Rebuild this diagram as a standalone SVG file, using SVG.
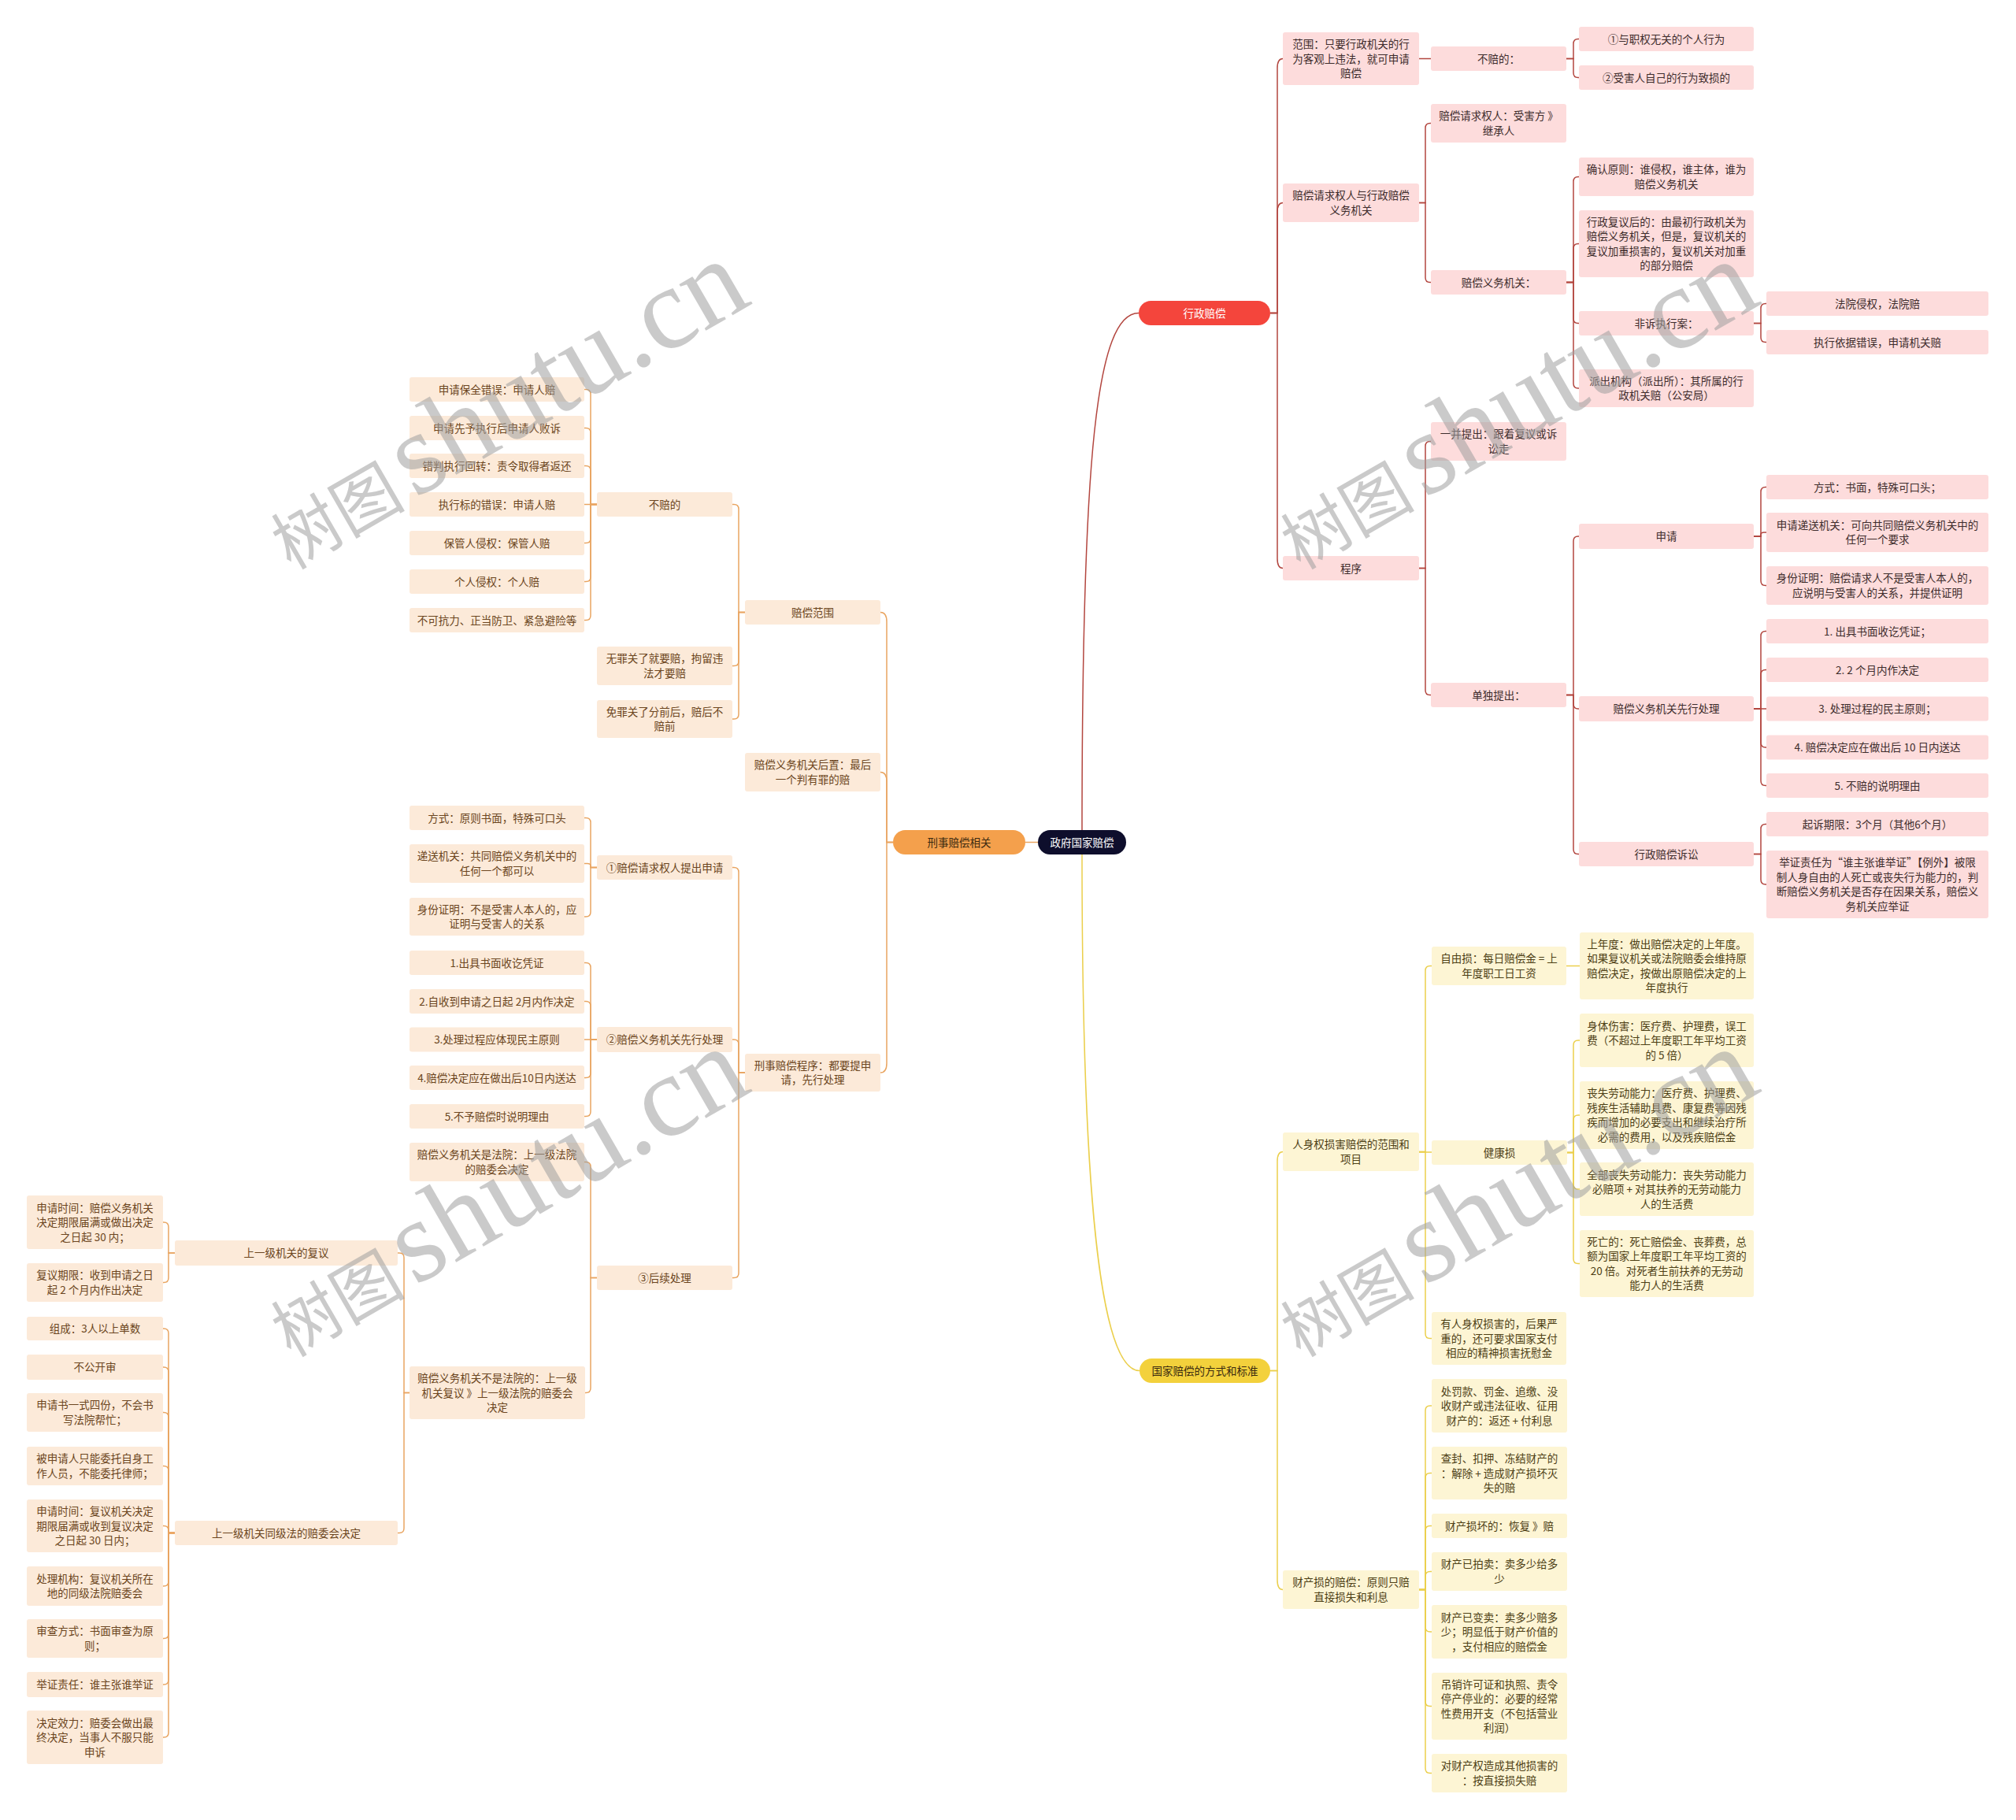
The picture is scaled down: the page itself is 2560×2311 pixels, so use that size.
<svg xmlns="http://www.w3.org/2000/svg" width="2560" height="2311" viewBox="0 0 2560 2311">
<style>
.br{fill:#FDDCDC}.bo{fill:#FCEAD9}.by{fill:#FDF5D4}
text{font-family:"Noto Sans CJK SC","Noto Sans",sans-serif;font-size:13.5px;text-anchor:middle}
.tr{fill:#3d2c2c}.to{fill:#6b4520}.ty{fill:#4d4015}.tw{fill:#ffffff}.td{fill:#3a2a10}
.c{fill:none;stroke-width:1.5}.cr{stroke:#B3463F}.co{stroke:#E9A561}.cy{stroke:#EBCF4C}
.wm{font-family:"Liberation Serif","Noto Sans CJK SC",serif;fill:#a0a0a0;opacity:0.55}
.wc{font-size:85px}.wl{font-size:148px}
</style>
<rect width="2560" height="2311" fill="#ffffff"/>
<g id="connectors">
<path class="c cr" d="M1374 1054 C1374 580 1392 397.5 1446 397.5"/>
<path class="c cy" d="M1374 1085 C1374 1500 1395 1740.5 1447 1740.5"/>
<path class="c co" d="M1318 1069.5 H1302"/>
<path class="c cr" d="M1613 397.5 H1622 V86.5 Q1622 74.5 1629 74.5"/>
<path class="c cr" d="M1613 397.5 H1622 V269.5 Q1622 257.5 1629 257.5"/>
<path class="c cr" d="M1613 397.5 H1622 V709.5 Q1622 721.5 1629 721.5"/>
<path class="c cr" d="M1802 74.5 H1817"/>
<path class="c cr" d="M1989 74.5 H1998 V55.5 Q1998 49.5 2004 49.5 H2005"/>
<path class="c cr" d="M1989 74.5 H1998 V92.5 Q1998 98.5 2004 98.5 H2005"/>
<path class="c cr" d="M1802 257.5 H1810 V162.5 Q1810 156.5 1816 156.5 H1817"/>
<path class="c cr" d="M1802 257.5 H1810 V352.5 Q1810 358.5 1816 358.5 H1817"/>
<path class="c cr" d="M1989 358.5 H1998 V230.5 Q1998 224.5 2004 224.5 H2005"/>
<path class="c cr" d="M1989 358.5 H1998 V315.5 Q1998 309.5 2004 309.5 H2005"/>
<path class="c cr" d="M1989 358.5 H1998 V404.5 Q1998 410.5 2004 410.5 H2005"/>
<path class="c cr" d="M1989 358.5 H1998 V487 Q1998 493 2004 493 H2005"/>
<path class="c cr" d="M2227 410.5 H2236 V391.5 Q2236 385.5 2242 385.5 H2243"/>
<path class="c cr" d="M2227 410.5 H2236 V428.5 Q2236 434.5 2242 434.5 H2243"/>
<path class="c cr" d="M1802 721.5 H1810 V566.5 Q1810 560.5 1816 560.5 H1817"/>
<path class="c cr" d="M1802 721.5 H1810 V876.5 Q1810 882.5 1816 882.5 H1817"/>
<path class="c cr" d="M1989 882.5 H1998 V687 Q1998 681 2004 681 H2005"/>
<path class="c cr" d="M1989 882.5 H1998 V894 Q1998 900 2004 900 H2005"/>
<path class="c cr" d="M1989 882.5 H1998 V1078.5 Q1998 1084.5 2004 1084.5 H2005"/>
<path class="c cr" d="M2227 681 H2236 V624.5 Q2236 618.5 2242 618.5 H2243"/>
<path class="c cr" d="M2227 681 H2236 V679 Q2236 676 2240 676 H2243"/>
<path class="c cr" d="M2227 681 H2236 V737.5 Q2236 743.5 2242 743.5 H2243"/>
<path class="c cr" d="M2227 900 H2236 V807.5 Q2236 801.5 2242 801.5 H2243"/>
<path class="c cr" d="M2227 900 H2236 V856.5 Q2236 850.5 2242 850.5 H2243"/>
<path class="c cr" d="M2227 900 H2243"/>
<path class="c cr" d="M2227 900 H2236 V943 Q2236 949 2242 949 H2243"/>
<path class="c cr" d="M2227 900 H2236 V991.5 Q2236 997.5 2242 997.5 H2243"/>
<path class="c cr" d="M2227 1084.5 H2236 V1052.5 Q2236 1046.5 2242 1046.5 H2243"/>
<path class="c cr" d="M2227 1084.5 H2236 V1117 Q2236 1123 2242 1123 H2243"/>
<path class="c cy" d="M1613 1740.5 H1622 V1474.5 Q1622 1462.5 1629 1462.5"/>
<path class="c cy" d="M1613 1740.5 H1622 V2006.5 Q1622 2018.5 1629 2018.5"/>
<path class="c cy" d="M1802 1462.5 H1810 V1232.5 Q1810 1226.5 1816 1226.5 H1818"/>
<path class="c cy" d="M1802 1463 H1818"/>
<path class="c cy" d="M1802 1462.5 H1810 V1693.5 Q1810 1699.5 1816 1699.5 H1818"/>
<path class="c cy" d="M1989 1226.5 H2006"/>
<path class="c cy" d="M1990 1463.5 H1998 V1327 Q1998 1321 2004 1321 H2006"/>
<path class="c cy" d="M1990 1463.5 H1998 V1422 Q1998 1416 2004 1416 H2006"/>
<path class="c cy" d="M1990 1463.5 H1998 V1504 Q1998 1510 2004 1510 H2006"/>
<path class="c cy" d="M1990 1463.5 H1998 V1598.5 Q1998 1604.5 2004 1604.5 H2006"/>
<path class="c cy" d="M1802 2018.5 H1810 V1791 Q1810 1785 1816 1785 H1818"/>
<path class="c cy" d="M1802 2018.5 H1810 V1876.5 Q1810 1870.5 1816 1870.5 H1818"/>
<path class="c cy" d="M1802 2018.5 H1810 V1943.5 Q1810 1937.5 1816 1937.5 H1818"/>
<path class="c cy" d="M1802 2018.5 H1810 V2001.5 Q1810 1995.5 1816 1995.5 H1818"/>
<path class="c cy" d="M1802 2018.5 H1810 V2066 Q1810 2072 1816 2072 H1818"/>
<path class="c cy" d="M1802 2018.5 H1810 V2160.5 Q1810 2166.5 1816 2166.5 H1818"/>
<path class="c cy" d="M1802 2018.5 H1810 V2245.5 Q1810 2251.5 1816 2251.5 H1818"/>
<path class="c co" d="M1134 1069.5 H1126 V789.5 Q1126 777.5 1118 777.5"/>
<path class="c co" d="M1134 1069.5 H1126 V992.5 Q1126 980.5 1118 980.5"/>
<path class="c co" d="M1134 1069.5 H1126 V1350 Q1126 1362 1118 1362"/>
<path class="c co" d="M946 777.5 H938 V646.5 Q938 640.5 932 640.5 H930"/>
<path class="c co" d="M946 777.5 H938 V839.5 Q938 845.5 932 845.5 H930"/>
<path class="c co" d="M946 777.5 H938 V907 Q938 913 932 913 H930"/>
<path class="c co" d="M758 640.5 H750 V500.5 Q750 494.5 744 494.5 H742"/>
<path class="c co" d="M758 640.5 H750 V549.5 Q750 543.5 744 543.5 H742"/>
<path class="c co" d="M758 640.5 H750 V597.5 Q750 591.5 744 591.5 H742"/>
<path class="c co" d="M758 640.5 H742"/>
<path class="c co" d="M758 640.5 H750 V683.5 Q750 689.5 744 689.5 H742"/>
<path class="c co" d="M758 640.5 H750 V732.5 Q750 738.5 744 738.5 H742"/>
<path class="c co" d="M758 640.5 H750 V781.5 Q750 787.5 744 787.5 H742"/>
<path class="c co" d="M946 1362 H938 V1107.5 Q938 1101.5 932 1101.5 H930"/>
<path class="c co" d="M946 1362 H938 V1326 Q938 1320 932 1320 H930"/>
<path class="c co" d="M946 1362 H938 V1616.5 Q938 1622.5 932 1622.5 H930"/>
<path class="c co" d="M758 1101.5 H750 V1044.5 Q750 1038.5 744 1038.5 H742"/>
<path class="c co" d="M758 1101.5 H750 V1099.5 Q750 1096.5 746 1096.5 H742"/>
<path class="c co" d="M758 1101.5 H750 V1158 Q750 1164 744 1164 H742"/>
<path class="c co" d="M758 1320 H750 V1228.5 Q750 1222.5 744 1222.5 H742"/>
<path class="c co" d="M758 1320 H750 V1277.5 Q750 1271.5 744 1271.5 H742"/>
<path class="c co" d="M758 1320 H742"/>
<path class="c co" d="M758 1320 H750 V1362.5 Q750 1368.5 744 1368.5 H742"/>
<path class="c co" d="M758 1320 H750 V1411.5 Q750 1417.5 744 1417.5 H742"/>
<path class="c co" d="M758 1622.5 H750 V1481.5 Q750 1475.5 744 1475.5 H742"/>
<path class="c co" d="M758 1622.5 H750 V1762.5 Q750 1768.5 744 1768.5 H742"/>
<path class="c co" d="M520 1768.5 H513 V1597 Q513 1591 507 1591 H505"/>
<path class="c co" d="M520 1768.5 H513 V1940.5 Q513 1946.5 507 1946.5 H505"/>
<path class="c co" d="M222 1591 H214 V1558 Q214 1552 208 1552 H207"/>
<path class="c co" d="M222 1591 H214 V1622.5 Q214 1628.5 208 1628.5 H207"/>
<path class="c co" d="M222 1946.5 H214 V1693 Q214 1687 208 1687 H207"/>
<path class="c co" d="M222 1946.5 H214 V1742 Q214 1736 208 1736 H207"/>
<path class="c co" d="M222 1946.5 H214 V1799.5 Q214 1793.5 208 1793.5 H207"/>
<path class="c co" d="M222 1946.5 H214 V1867.5 Q214 1861.5 208 1861.5 H207"/>
<path class="c co" d="M222 1946.5 H214 V1943.5 Q214 1937.5 208 1937.5 H207"/>
<path class="c co" d="M222 1946.5 H214 V2008 Q214 2014 208 2014 H207"/>
<path class="c co" d="M222 1946.5 H214 V2074.5 Q214 2080.5 208 2080.5 H207"/>
<path class="c co" d="M222 1946.5 H214 V2133 Q214 2139 208 2139 H207"/>
<path class="c co" d="M222 1946.5 H214 V2200 Q214 2206 208 2206 H207"/>
</g>

<g id="root"><rect x="1318" y="1054" width="112" height="31" rx="15.5" fill="#0E0E2C"/><text class="tw" x="1374" y="1074.5">政府国家赔偿</text></g>
<g id="n_xzpc"><rect x="1446" y="382" width="167" height="31" rx="15.5" fill="#F4453C"/><text class="tw" x="1529.5" y="402.5">行政赔偿</text></g>
<g id="n_xspc"><rect x="1134" y="1054" width="168" height="31" rx="15.5" fill="#F4A04C"/><text class="td" x="1218" y="1074.5">刑事赔偿相关</text></g>
<g id="n_gjpc"><rect x="1447" y="1725" width="166" height="31" rx="15.5" fill="#F3D13C"/><text class="td" x="1530" y="1745.5">国家赔偿的方式和标准</text></g>

<g id="a1"><rect class="br" x="1629" y="41" width="173" height="67" rx="3"/><text class="tr" x="1715.5" y="61"><tspan x="1715.5">范围：只要行政机关的行</tspan><tspan x="1715.5" dy="18.5">为客观上违法，就可申请</tspan><tspan x="1715.5" dy="18.5">赔偿</tspan></text></g>
<g id="a2"><rect class="br" x="1817" y="59" width="172" height="31" rx="3"/><text class="tr" x="1903" y="79.5">不赔的：</text></g>
<g id="a3"><rect class="br" x="2005" y="34" width="222" height="31" rx="3"/><text class="tr" x="2116" y="54.5">①与职权无关的个人行为</text></g>
<g id="a4"><rect class="br" x="2005" y="83" width="222" height="31" rx="3"/><text class="tr" x="2116" y="103.5">②受害人自己的行为致损的</text></g>
<g id="a5"><rect class="br" x="1629" y="233" width="173" height="49" rx="3"/><text class="tr" x="1715.5" y="253.25"><tspan x="1715.5">赔偿请求权人与行政赔偿</tspan><tspan x="1715.5" dy="18.5">义务机关</tspan></text></g>
<g id="a6"><rect class="br" x="1817" y="132" width="172" height="49" rx="3"/><text class="tr" x="1903" y="152.25"><tspan x="1903">赔偿请求权人：受害方 》</tspan><tspan x="1903" dy="18.5">继承人</tspan></text></g>
<g id="a7"><rect class="br" x="1817" y="343" width="172" height="31" rx="3"/><text class="tr" x="1903" y="363.5">赔偿义务机关：</text></g>
<g id="a8"><rect class="br" x="2005" y="200" width="222" height="49" rx="3"/><text class="tr" x="2116" y="220.25"><tspan x="2116">确认原则：谁侵权，谁主体，谁为</tspan><tspan x="2116" dy="18.5">赔偿义务机关</tspan></text></g>
<g id="a9"><rect class="br" x="2005" y="267" width="222" height="85" rx="3"/><text class="tr" x="2116" y="286.75"><tspan x="2116">行政复议后的：由最初行政机关为</tspan><tspan x="2116" dy="18.5">赔偿义务机关，但是，复议机关的</tspan><tspan x="2116" dy="18.5">复议加重损害的，复议机关对加重</tspan><tspan x="2116" dy="18.5">的部分赔偿</tspan></text></g>
<g id="a10"><rect class="br" x="2005" y="395" width="222" height="31" rx="3"/><text class="tr" x="2116" y="415.5">非诉执行案：</text></g>
<g id="a11"><rect class="br" x="2243" y="370" width="282" height="31" rx="3"/><text class="tr" x="2384" y="390.5">法院侵权，法院赔</text></g>
<g id="a12"><rect class="br" x="2243" y="419" width="282" height="31" rx="3"/><text class="tr" x="2384" y="439.5">执行依据错误，申请机关赔</text></g>
<g id="a13"><rect class="br" x="2005" y="469" width="222" height="48" rx="3"/><text class="tr" x="2116" y="488.75"><tspan x="2116">派出机构（派出所）：其所属的行</tspan><tspan x="2116" dy="18.5">政机关赔（公安局）</tspan></text></g>
<g id="a14"><rect class="br" x="1629" y="706" width="173" height="31" rx="3"/><text class="tr" x="1715.5" y="726.5">程序</text></g>
<g id="a15"><rect class="br" x="1817" y="536" width="172" height="49" rx="3"/><text class="tr" x="1903" y="556.25"><tspan x="1903">一并提出：跟着复议或诉</tspan><tspan x="1903" dy="18.5">讼走</tspan></text></g>
<g id="a16"><rect class="br" x="1817" y="867" width="172" height="31" rx="3"/><text class="tr" x="1903" y="887.5">单独提出：</text></g>
<g id="a17"><rect class="br" x="2005" y="665" width="222" height="32" rx="3"/><text class="tr" x="2116" y="686">申请</text></g>
<g id="a18"><rect class="br" x="2243" y="603" width="282" height="31" rx="3"/><text class="tr" x="2384" y="623.5">方式：书面，特殊可口头；</text></g>
<g id="a19"><rect class="br" x="2243" y="651" width="282" height="50" rx="3"/><text class="tr" x="2384" y="671.75"><tspan x="2384">申请递送机关：可向共同赔偿义务机关中的</tspan><tspan x="2384" dy="18.5">任何一个要求</tspan></text></g>
<g id="a20"><rect class="br" x="2243" y="719" width="282" height="49" rx="3"/><text class="tr" x="2384" y="739.25"><tspan x="2384">身份证明：赔偿请求人不是受害人本人的，</tspan><tspan x="2384" dy="18.5">应说明与受害人的关系，并提供证明</tspan></text></g>
<g id="a21"><rect class="br" x="2005" y="884" width="222" height="32" rx="3"/><text class="tr" x="2116" y="905">赔偿义务机关先行处理</text></g>
<g id="a22"><rect class="br" x="2243" y="786" width="282" height="31" rx="3"/><text class="tr" x="2384" y="806.5">1. 出具书面收讫凭证；</text></g>
<g id="a23"><rect class="br" x="2243" y="835" width="282" height="31" rx="3"/><text class="tr" x="2384" y="855.5">2. 2 个月内作决定</text></g>
<g id="a24"><rect class="br" x="2243" y="884.5" width="282" height="31" rx="3"/><text class="tr" x="2384" y="905">3. 处理过程的民主原则；</text></g>
<g id="a25"><rect class="br" x="2243" y="933.5" width="282" height="31" rx="3"/><text class="tr" x="2384" y="954">4. 赔偿决定应在做出后 10 日内送达</text></g>
<g id="a26"><rect class="br" x="2243" y="982" width="282" height="31" rx="3"/><text class="tr" x="2384" y="1002.5">5. 不赔的说明理由</text></g>
<g id="a27"><rect class="br" x="2005" y="1069" width="222" height="31" rx="3"/><text class="tr" x="2116" y="1089.5">行政赔偿诉讼</text></g>
<g id="a28"><rect class="br" x="2243" y="1031" width="282" height="31" rx="3"/><text class="tr" x="2384" y="1051.5">起诉期限：3个月（其他6个月）</text></g>
<g id="a29"><rect class="br" x="2243" y="1080" width="282" height="86" rx="3"/><text class="tr" x="2384" y="1100.25"><tspan x="2384">举证责任为“谁主张谁举证”【例外】被限</tspan><tspan x="2384" dy="18.5">制人身自由的人死亡或丧失行为能力的，判</tspan><tspan x="2384" dy="18.5">断赔偿义务机关是否存在因果关系，赔偿义</tspan><tspan x="2384" dy="18.5">务机关应举证</tspan></text></g>

<g id="b1"><rect class="by" x="1629" y="1438" width="173" height="49" rx="3"/><text class="ty" x="1715.5" y="1458.25"><tspan x="1715.5">人身权损害赔偿的范围和</tspan><tspan x="1715.5" dy="18.5">项目</tspan></text></g>
<g id="b2"><rect class="by" x="1818" y="1202" width="171" height="49" rx="3"/><text class="ty" x="1903.5" y="1222.25"><tspan x="1903.5">自由损：每日赔偿金 = 上</tspan><tspan x="1903.5" dy="18.5">年度职工日工资</tspan></text></g>
<g id="b3"><rect class="by" x="2006" y="1184" width="221" height="85" rx="3"/><text class="ty" x="2116.5" y="1203.75"><tspan x="2116.5">上年度：做出赔偿决定的上年度。</tspan><tspan x="2116.5" dy="18.5">如果复议机关或法院赔委会维持原</tspan><tspan x="2116.5" dy="18.5">赔偿决定，按做出原赔偿决定的上</tspan><tspan x="2116.5" dy="18.5">年度执行</tspan></text></g>
<g id="b4"><rect class="by" x="1818" y="1448" width="172" height="31" rx="3"/><text class="ty" x="1904" y="1468.5">健康损</text></g>
<g id="b5"><rect class="by" x="2006" y="1287" width="221" height="68" rx="3"/><text class="ty" x="2116.5" y="1307.5"><tspan x="2116.5">身体伤害：医疗费、护理费，误工</tspan><tspan x="2116.5" dy="18.5">费（不超过上年度职工年平均工资</tspan><tspan x="2116.5" dy="18.5">的 5 倍）</tspan></text></g>
<g id="b6"><rect class="by" x="2006" y="1373" width="221" height="86" rx="3"/><text class="ty" x="2116.5" y="1393.25"><tspan x="2116.5">丧失劳动能力：医疗费、护理费、</tspan><tspan x="2116.5" dy="18.5">残疾生活辅助具费、康复费等因残</tspan><tspan x="2116.5" dy="18.5">疾而增加的必要支出和继续治疗所</tspan><tspan x="2116.5" dy="18.5">必需的费用，以及残疾赔偿金</tspan></text></g>
<g id="b7"><rect class="by" x="2006" y="1476" width="221" height="68" rx="3"/><text class="ty" x="2116.5" y="1496.5"><tspan x="2116.5">全部丧失劳动能力：丧失劳动能力</tspan><tspan x="2116.5" dy="18.5">必赔项 + 对其扶养的无劳动能力</tspan><tspan x="2116.5" dy="18.5">人的生活费</tspan></text></g>
<g id="b8"><rect class="by" x="2006" y="1562" width="221" height="85" rx="3"/><text class="ty" x="2116.5" y="1581.75"><tspan x="2116.5">死亡的：死亡赔偿金、丧葬费，总</tspan><tspan x="2116.5" dy="18.5">额为国家上年度职工年平均工资的</tspan><tspan x="2116.5" dy="18.5">20 倍。对死者生前扶养的无劳动</tspan><tspan x="2116.5" dy="18.5">能力人的生活费</tspan></text></g>
<g id="b9"><rect class="by" x="1818" y="1666" width="171" height="67" rx="3"/><text class="ty" x="1903.5" y="1686"><tspan x="1903.5">有人身权损害的，后果严</tspan><tspan x="1903.5" dy="18.5">重的，还可要求国家支付</tspan><tspan x="1903.5" dy="18.5">相应的精神损害抚慰金</tspan></text></g>
<g id="b10"><rect class="by" x="1629" y="1994" width="173" height="49" rx="3"/><text class="ty" x="1715.5" y="2014.25"><tspan x="1715.5">财产损的赔偿：原则只赔</tspan><tspan x="1715.5" dy="18.5">直接损失和利息</tspan></text></g>
<g id="b11"><rect class="by" x="1818" y="1751" width="172" height="68" rx="3"/><text class="ty" x="1904" y="1771.5"><tspan x="1904">处罚款、罚金、追缴、没</tspan><tspan x="1904" dy="18.5">收财产或违法征收、征用</tspan><tspan x="1904" dy="18.5">财产的：返还 + 付利息</tspan></text></g>
<g id="b12"><rect class="by" x="1818" y="1837" width="172" height="67" rx="3"/><text class="ty" x="1904" y="1857"><tspan x="1904">查封、扣押、冻结财产的</tspan><tspan x="1904" dy="18.5">：解除 + 造成财产损坏灭</tspan><tspan x="1904" dy="18.5">失的赔</tspan></text></g>
<g id="b13"><rect class="by" x="1818" y="1922" width="172" height="31" rx="3"/><text class="ty" x="1904" y="1942.5">财产损坏的：恢复 》赔</text></g>
<g id="b14"><rect class="by" x="1818" y="1971" width="172" height="49" rx="3"/><text class="ty" x="1904" y="1991.25"><tspan x="1904">财产已拍卖：卖多少给多</tspan><tspan x="1904" dy="18.5">少</tspan></text></g>
<g id="b15"><rect class="by" x="1818" y="2038" width="172" height="68" rx="3"/><text class="ty" x="1904" y="2058.5"><tspan x="1904">财产已变卖：卖多少赔多</tspan><tspan x="1904" dy="18.5">少；明显低于财产价值的</tspan><tspan x="1904" dy="18.5">，支付相应的赔偿金</tspan></text></g>
<g id="b16"><rect class="by" x="1818" y="2124" width="172" height="85" rx="3"/><text class="ty" x="1904" y="2143.75"><tspan x="1904">吊销许可证和执照、责令</tspan><tspan x="1904" dy="18.5">停产停业的：必要的经常</tspan><tspan x="1904" dy="18.5">性费用开支（不包括营业</tspan><tspan x="1904" dy="18.5">利润）</tspan></text></g>
<g id="b17"><rect class="by" x="1818" y="2227" width="172" height="49" rx="3"/><text class="ty" x="1904" y="2247.25"><tspan x="1904">对财产权造成其他损害的</tspan><tspan x="1904" dy="18.5">：按直接损失赔</tspan></text></g>

<g id="c1"><rect class="bo" x="946" y="762" width="172" height="31" rx="3"/><text class="to" x="1032" y="782.5">赔偿范围</text></g>
<g id="c2"><rect class="bo" x="946" y="956" width="172" height="49" rx="3"/><text class="to" x="1032" y="976.25"><tspan x="1032">赔偿义务机关后置：最后</tspan><tspan x="1032" dy="18.5">一个判有罪的赔</tspan></text></g>
<g id="c3"><rect class="bo" x="946" y="1338" width="172" height="48" rx="3"/><text class="to" x="1032" y="1357.75"><tspan x="1032">刑事赔偿程序：都要提申</tspan><tspan x="1032" dy="18.5">请，先行处理</tspan></text></g>
<g id="c4"><rect class="bo" x="758" y="625" width="172" height="31" rx="3"/><text class="to" x="844" y="645.5">不赔的</text></g>
<g id="c5"><rect class="bo" x="758" y="821" width="172" height="49" rx="3"/><text class="to" x="844" y="841.25"><tspan x="844">无罪关了就要赔，拘留违</tspan><tspan x="844" dy="18.5">法才要赔</tspan></text></g>
<g id="c6"><rect class="bo" x="758" y="889" width="172" height="48" rx="3"/><text class="to" x="844" y="908.75"><tspan x="844">免罪关了分前后，赔后不</tspan><tspan x="844" dy="18.5">赔前</tspan></text></g>
<g id="l1"><rect class="bo" x="520" y="479" width="222" height="31" rx="3"/><text class="to" x="631" y="499.5">申请保全错误：申请人赔</text></g>
<g id="l2"><rect class="bo" x="520" y="528" width="222" height="31" rx="3"/><text class="to" x="631" y="548.5">申请先予执行后申请人败诉</text></g>
<g id="l3"><rect class="bo" x="520" y="576" width="222" height="31" rx="3"/><text class="to" x="631" y="596.5">错判执行回转：责令取得者返还</text></g>
<g id="l4"><rect class="bo" x="520" y="625" width="222" height="31" rx="3"/><text class="to" x="631" y="645.5">执行标的错误：申请人赔</text></g>
<g id="l5"><rect class="bo" x="520" y="674" width="222" height="31" rx="3"/><text class="to" x="631" y="694.5">保管人侵权：保管人赔</text></g>
<g id="l6"><rect class="bo" x="520" y="723" width="222" height="31" rx="3"/><text class="to" x="631" y="743.5">个人侵权：个人赔</text></g>
<g id="l7"><rect class="bo" x="520" y="772" width="222" height="31" rx="3"/><text class="to" x="631" y="792.5">不可抗力、正当防卫、紧急避险等</text></g>
<g id="c7"><rect class="bo" x="758" y="1086" width="172" height="31" rx="3"/><text class="to" x="844" y="1106.5">①赔偿请求权人提出申请</text></g>
<g id="c8"><rect class="bo" x="758" y="1304" width="172" height="32" rx="3"/><text class="to" x="844" y="1325">②赔偿义务机关先行处理</text></g>
<g id="c9"><rect class="bo" x="758" y="1607" width="172" height="31" rx="3"/><text class="to" x="844" y="1627.5">③后续处理</text></g>
<g id="m1"><rect class="bo" x="520" y="1023" width="222" height="31" rx="3"/><text class="to" x="631" y="1043.5">方式：原则书面，特殊可口头</text></g>
<g id="m2"><rect class="bo" x="520" y="1072" width="222" height="49" rx="3"/><text class="to" x="631" y="1092.25"><tspan x="631">递送机关：共同赔偿义务机关中的</tspan><tspan x="631" dy="18.5">任何一个都可以</tspan></text></g>
<g id="m3"><rect class="bo" x="520" y="1140" width="222" height="48" rx="3"/><text class="to" x="631" y="1159.75"><tspan x="631">身份证明：不是受害人本人的，应</tspan><tspan x="631" dy="18.5">证明与受害人的关系</tspan></text></g>
<g id="m4"><rect class="bo" x="520" y="1207" width="222" height="31" rx="3"/><text class="to" x="631" y="1227.5">1.出具书面收讫凭证</text></g>
<g id="m5"><rect class="bo" x="520" y="1256" width="222" height="31" rx="3"/><text class="to" x="631" y="1276.5">2.自收到申请之日起 2月内作决定</text></g>
<g id="m6"><rect class="bo" x="520" y="1304.5" width="222" height="31" rx="3"/><text class="to" x="631" y="1325">3.处理过程应体现民主原则</text></g>
<g id="m7"><rect class="bo" x="520" y="1353" width="222" height="31" rx="3"/><text class="to" x="631" y="1373.5">4.赔偿决定应在做出后10日内送达</text></g>
<g id="m8"><rect class="bo" x="520" y="1402" width="222" height="31" rx="3"/><text class="to" x="631" y="1422.5">5.不予赔偿时说明理由</text></g>
<g id="m9"><rect class="bo" x="520" y="1451" width="222" height="49" rx="3"/><text class="to" x="631" y="1471.25"><tspan x="631">赔偿义务机关是法院：上一级法院</tspan><tspan x="631" dy="18.5">的赔委会决定</tspan></text></g>
<g id="m10"><rect class="bo" x="520" y="1735" width="223" height="67" rx="3"/><text class="to" x="631.5" y="1755"><tspan x="631.5">赔偿义务机关不是法院的：上一级</tspan><tspan x="631.5" dy="18.5">机关复议 》上一级法院的赔委会</tspan><tspan x="631.5" dy="18.5">决定</tspan></text></g>
<g id="d1"><rect class="bo" x="222" y="1575" width="283" height="32" rx="3"/><text class="to" x="363.5" y="1596">上一级机关的复议</text></g>
<g id="d2"><rect class="bo" x="222" y="1931" width="283" height="31" rx="3"/><text class="to" x="363.5" y="1951.5">上一级机关同级法的赔委会决定</text></g>
<g id="e1"><rect class="bo" x="34" y="1518" width="173" height="68" rx="3"/><text class="to" x="120.5" y="1538.5"><tspan x="120.5">申请时间：赔偿义务机关</tspan><tspan x="120.5" dy="18.5">决定期限届满或做出决定</tspan><tspan x="120.5" dy="18.5">之日起 30 内；</tspan></text></g>
<g id="e2"><rect class="bo" x="34" y="1604" width="173" height="49" rx="3"/><text class="to" x="120.5" y="1624.25"><tspan x="120.5">复议期限：收到申请之日</tspan><tspan x="120.5" dy="18.5">起 2 个月内作出决定</tspan></text></g>
<g id="e3"><rect class="bo" x="34" y="1672" width="173" height="30" rx="3"/><text class="to" x="120.5" y="1692">组成：3人以上单数</text></g>
<g id="e4"><rect class="bo" x="34" y="1720" width="173" height="32" rx="3"/><text class="to" x="120.5" y="1741">不公开审</text></g>
<g id="e5"><rect class="bo" x="34" y="1769" width="173" height="49" rx="3"/><text class="to" x="120.5" y="1789.25"><tspan x="120.5">申请书一式四份，不会书</tspan><tspan x="120.5" dy="18.5">写法院帮忙；</tspan></text></g>
<g id="e6"><rect class="bo" x="34" y="1837" width="173" height="49" rx="3"/><text class="to" x="120.5" y="1857.25"><tspan x="120.5">被申请人只能委托自身工</tspan><tspan x="120.5" dy="18.5">作人员，不能委托律师；</tspan></text></g>
<g id="e7"><rect class="bo" x="34" y="1904" width="173" height="67" rx="3"/><text class="to" x="120.5" y="1924"><tspan x="120.5">申请时间：复议机关决定</tspan><tspan x="120.5" dy="18.5">期限届满或收到复议决定</tspan><tspan x="120.5" dy="18.5">之日起 30 日内；</tspan></text></g>
<g id="e8"><rect class="bo" x="34" y="1989" width="173" height="50" rx="3"/><text class="to" x="120.5" y="2009.75"><tspan x="120.5">处理机构：复议机关所在</tspan><tspan x="120.5" dy="18.5">地的同级法院赔委会</tspan></text></g>
<g id="e9"><rect class="bo" x="34" y="2056" width="173" height="49" rx="3"/><text class="to" x="120.5" y="2076.25"><tspan x="120.5">审查方式：书面审查为原</tspan><tspan x="120.5" dy="18.5">则；</tspan></text></g>
<g id="e10"><rect class="bo" x="34" y="2123" width="173" height="32" rx="3"/><text class="to" x="120.5" y="2144">举证责任：谁主张谁举证</text></g>
<g id="e11"><rect class="bo" x="34" y="2172" width="173" height="68" rx="3"/><text class="to" x="120.5" y="2192.5"><tspan x="120.5">决定效力：赔委会做出最</tspan><tspan x="120.5" dy="18.5">终决定，当事人不服只能</tspan><tspan x="120.5" dy="18.5">申诉</tspan></text></g>

<g id="watermarks">
<text class="wm" transform="translate(646,524) rotate(-30)" x="0" y="35"><tspan class="wc">树图</tspan><tspan class="wl" dx="12">shutu.cn</tspan></text>
<text class="wm" transform="translate(646,1524) rotate(-30)" x="0" y="35"><tspan class="wc">树图</tspan><tspan class="wl" dx="12">shutu.cn</tspan></text>
<text class="wm" transform="translate(1928,524) rotate(-30)" x="0" y="35"><tspan class="wc">树图</tspan><tspan class="wl" dx="12">shutu.cn</tspan></text>
<text class="wm" transform="translate(1928,1524) rotate(-30)" x="0" y="35"><tspan class="wc">树图</tspan><tspan class="wl" dx="12">shutu.cn</tspan></text>
</g>
</svg>
